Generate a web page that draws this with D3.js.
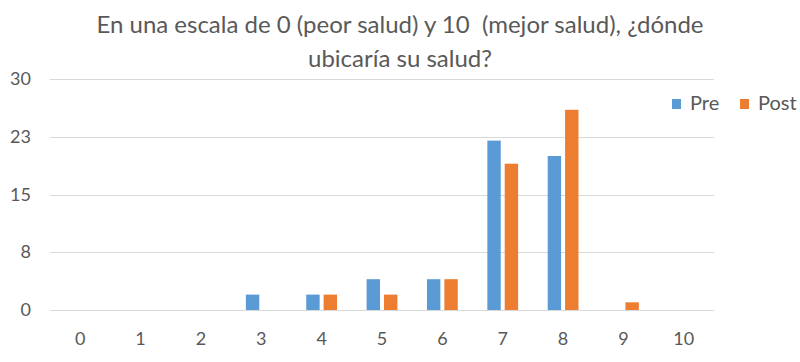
<!DOCTYPE html>
<html>
<head>
<meta charset="utf-8">
<script src="https://cdn.jsdelivr.net/npm/d3@7"></script>
<style>
  body { margin: 0; background: #fff; }
  text { font-family: Lato, "Open Sans", sans-serif; fill: #595959; white-space: pre; }
</style>
</head>
<body>
<div id="chart"></div>
<script>
// categories on the x axis (score 0..10)
var categories = ["0", "1", "2", "3", "4", "5", "6", "7", "8", "9", "10"];
var preValues = [0, 0, 0, 2, 2, 4, 4, 22, 20, 0, 0];
var postValues = [0, 0, 0, 0, 2, 2, 4, 19, 26, 1, 0];
var seriesNames = ["Pre", "Post"];
var seriesColors = ["#5B9BD5", "#ED7D31"];
// excel picked 30/4 steps, labels are rounded
var yTickValues = [0, 7.5, 15, 22.5, 30];
var yTickLabels = ["0", "8", "15", "23", "30"];
var titleLines = ["En una escala de 0 (peor salud) y 10  (mejor salud), ¿dónde", "ubicaría su salud?"];

var width = 800, height = 362;
var margin = { top: 79, right: 86, bottom: 52, left: 50 };

var svg = d3.select("#chart").append("svg")
    .attr("width", width)
    .attr("height", height);

var x = d3.scaleBand()
    .domain(categories)
    .range([margin.left, width - margin.right]);

var y = d3.scaleLinear()
    .domain([0, 30])
    .range([height - margin.bottom, margin.top]);

// gridlines
svg.append("g")
    .selectAll("line")
    .data(yTickValues)
    .enter().append("line")
    .attr("x1", margin.left)
    .attr("x2", width - margin.right)
    .attr("y1", function (d) { return Math.round(y(d)) + 0.5; })
    .attr("y2", function (d) { return Math.round(y(d)) + 0.5; })
    .attr("stroke", "#d9d9d9")
    .attr("stroke-width", 1);

// y tick labels
svg.append("g")
    .selectAll("text")
    .data(yTickValues)
    .enter().append("text")
    .attr("x", 31)
    .attr("y", function (d) { return y(d) + 6; })
    .attr("text-anchor", "end")
    .style("font-size", "18px")
    .text(function (d, i) { return yTickLabels[i]; });

// x tick labels
svg.append("g")
    .selectAll("text")
    .data(categories)
    .enter().append("text")
    .attr("x", function (d) { return x(d) + x.bandwidth() / 2; })
    .attr("y", 345)
    .attr("text-anchor", "middle")
    .style("font-size", "18px")
    .text(function (d) { return d; });

// bars
var barW = x.bandwidth() * 0.222;
var barGap = x.bandwidth() * 0.066;
var series = [preValues, postValues];

series.forEach(function (vals, s) {
    svg.append("g")
        .selectAll("rect")
        .data(vals)
        .enter().append("rect")
        .attr("x", function (d, i) {
            var c = x(categories[i]) + x.bandwidth() / 2;
            return s === 0 ? c - barGap / 2 - barW : c + barGap / 2;
        })
        .attr("y", function (d) { return y(d); })
        .attr("width", barW)
        .attr("height", function (d) { return y(0) - y(d); })
        .attr("fill", seriesColors[s]);
});

// title
svg.append("g")
    .selectAll("text")
    .data(titleLines)
    .enter().append("text")
    .attr("x", 400)
    .attr("y", function (d, i) { return 33 + i * 34; })
    .attr("text-anchor", "middle")
    .style("font-size", "24px")
    .text(function (d) { return d; });

// legend
var legendX = [672, 740];
var legend = svg.append("g")
    .selectAll("g")
    .data(seriesNames)
    .enter().append("g")
    .attr("transform", function (d, i) { return "translate(" + legendX[i] + ",99)"; });

legend.append("rect")
    .attr("width", 9)
    .attr("height", 10)
    .attr("fill", function (d, i) { return seriesColors[i]; });

legend.append("text")
    .attr("x", 18)
    .attr("y", 11)
    .style("font-size", "20px")
    .text(function (d) { return d; });
</script>
</body>
</html>
